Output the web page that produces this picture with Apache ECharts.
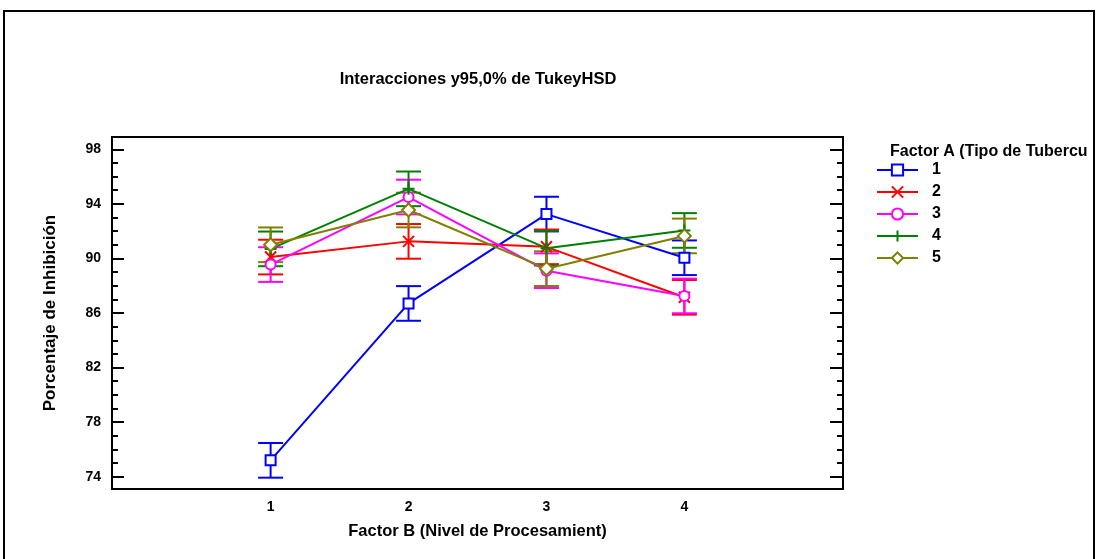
<!DOCTYPE html>
<html>
<head>
<meta charset="utf-8">
<script src="https://cdn.jsdelivr.net/npm/echarts@6/dist/echarts.min.js"></script>
<style>
  html, body { margin: 0; padding: 0; background: #fff; }
  #chart { width: 1098px; height: 559px; }
</style>
</head>
<body>
<div id="chart"></div>
<script>
// Levels of Factor B (x positions)
const factorB = [1, 2, 3, 4];
// Levels of Factor A (one line per level)
const factorA = ['1', '2', '3', '4', '5'];
// Mean % inhibition for each Factor A level at Factor B = 1..4
const mean1 = [75.2, 86.7, 93.25, 90.05];
const mean2 = [90.1, 91.25, 90.85, 87.15];
const mean3 = [89.55, 94.5, 89.1, 87.25];
const mean4 = [90.7, 95.1, 90.75, 92.05];
const mean5 = [91.0, 93.55, 89.25, 91.65];
// Half width of the 95% Tukey HSD interval
const hsdHalf = 1.27;
// Axis tick labels
const yMajor = [74, 78, 82, 86, 90, 94, 98];
const yMinor = [75, 76, 77, 79, 80, 81, 83, 84, 85, 87, 88, 89, 91, 92, 93, 95, 96, 97];
const xLabels = [1, 2, 3, 4];

const means = [mean1, mean2, mean3, mean4, mean5];
const colors = ['#0000ff', '#ff0000', '#ff00ff', '#008000', '#808000'];
const symbols = [
  'emptyRect',
  'path://M0,0L10,10M10,0L0,10',
  'emptyCircle',
  'path://M5,0L5,10M0,5L10,5',
  'emptyDiamond'
];
const symbolSizes = [10, 11, 10, 12, 13];
const FONT = "'Liberation Sans', Arial, sans-serif";

const series = [];
// Interval bars (drawn first so lines sit on top)
means.forEach((m, i) => {
  series.push({
    name: 'hsd' + factorA[i],
    type: 'custom',
    xAxisIndex: 0, yAxisIndex: 0,
    z: 2,
    data: factorB.map((b, j) => [b, m[j] - hsdHalf, m[j] + hsdHalf]),
    renderItem: function (params, api) {
      const lo = api.coord([api.value(0), api.value(1)]);
      const hi = api.coord([api.value(0), api.value(2)]);
      const cap = 12.5;
      const st = { stroke: colors[i], lineWidth: 2 };
      return {
        type: 'group',
        children: [
          { type: 'line', shape: { x1: lo[0], y1: lo[1], x2: hi[0], y2: hi[1] }, style: st },
          { type: 'line', shape: { x1: lo[0] - cap, y1: lo[1], x2: lo[0] + cap, y2: lo[1] }, style: st },
          { type: 'line', shape: { x1: hi[0] - cap, y1: hi[1], x2: hi[0] + cap, y2: hi[1] }, style: st }
        ]
      };
    }
  });
});
// Mean lines with markers
means.forEach((m, i) => {
  const isPath = symbols[i].indexOf('path://') === 0;
  series.push({
    name: factorA[i],
    type: 'line',
    xAxisIndex: 0, yAxisIndex: 0,
    z: 3,
    data: factorB.map((b, j) => [b, m[j]]),
    symbol: symbols[i],
    symbolSize: symbolSizes[i],
    showAllSymbol: true,
    lineStyle: { color: colors[i], width: 2 },
    itemStyle: isPath
      ? { color: colors[i], borderColor: colors[i], borderWidth: 2 }
      : { color: colors[i], borderWidth: 2 },
    emphasis: { disabled: true }
  });
});

const tickLabel = { fontFamily: FONT, fontWeight: 'bold', fontSize: 14, color: '#000' };
const Y_MIN = 73.1, Y_MAX = 98.9;
const X_MIN = -0.15, X_MAX = 5.15;
const gridBox = { left: 112, right: 255, top: 137, bottom: 70 };
const noLine = { show: false, onZero: false };

// Tick-only y axis (major or minor, left or right)
function tickAxis(gridIndex, position, values, length) {
  return {
    gridIndex: gridIndex,
    type: 'value', min: Y_MIN, max: Y_MAX, position: position,
    axisLine: noLine, splitLine: { show: false }, axisLabel: { show: false },
    axisTick: { show: true, inside: true, length: length, customValues: values,
                lineStyle: { color: '#000', width: 2 } }
  };
}

const option = {
  animation: false,
  backgroundColor: '#fff',
  graphic: [{
    type: 'rect',
    shape: { x: 4, y: 11, width: 1090, height: 600 },
    style: { fill: 'none', stroke: '#000', lineWidth: 2 },
    silent: true
  }],
  title: [{
    text: 'Interacciones y95,0% de TukeyHSD',
    left: 473, top: 66, textAlign: 'center',
    textStyle: { fontFamily: FONT, fontWeight: 'bold', fontSize: 16.5, color: '#000' }
  }, {
    text: 'Factor A (Tipo de Tubercu',
    left: 885, top: 139,
    textStyle: { fontFamily: FONT, fontWeight: 'bold', fontSize: 16, color: '#000' }
  }],
  legend: {
    data: factorA,
    orient: 'vertical',
    left: 871, top: 157,
    itemWidth: 41, itemHeight: 14, itemGap: 6,
    selectedMode: false,
    textStyle: { fontFamily: FONT, fontWeight: 'bold', fontSize: 16, color: '#000', padding: [0, 0, 0, 9] }
  },
  // grid 0 carries the data; grid 1 (same box) carries the minor ticks
  grid: [
    Object.assign({ show: true, borderColor: '#000', borderWidth: 2, backgroundColor: 'transparent' }, gridBox),
    Object.assign({ show: false }, gridBox)
  ],
  xAxis: [{
    gridIndex: 0,
    type: 'value', min: X_MIN, max: X_MAX,
    name: 'Factor B (Nivel de Procesamient)',
    nameLocation: 'middle', nameGap: 34,
    nameTextStyle: { fontFamily: FONT, fontWeight: 'bold', fontSize: 16.5, color: '#000' },
    axisLine: noLine,
    axisTick: { show: false },
    splitLine: { show: false },
    axisLabel: Object.assign({ customValues: xLabels, margin: 11 }, tickLabel)
  }, {
    gridIndex: 1,
    type: 'value', min: X_MIN, max: X_MAX, show: false,
    axisLine: noLine
  }],
  yAxis: [{
    gridIndex: 0,
    type: 'value', min: Y_MIN, max: Y_MAX, position: 'left',
    name: 'Porcentaje de Inhibición',
    nameLocation: 'middle', nameGap: 53,
    nameTextStyle: { fontFamily: FONT, fontWeight: 'bold', fontSize: 17, color: '#000' },
    axisLine: noLine,
    splitLine: { show: false },
    axisTick: { show: true, inside: true, length: 12, customValues: yMajor,
                lineStyle: { color: '#000', width: 2 } },
    axisLabel: Object.assign({ customValues: yMajor, margin: 11 }, tickLabel)
  },
    tickAxis(0, 'right', yMajor, 13),
    tickAxis(1, 'left', yMinor, 6),
    tickAxis(1, 'right', yMinor, 6)
  ],
  series: series
};

const chart = echarts.init(document.getElementById('chart'), null, { renderer: 'canvas' });
chart.setOption(option);
</script>
</body>
</html>
